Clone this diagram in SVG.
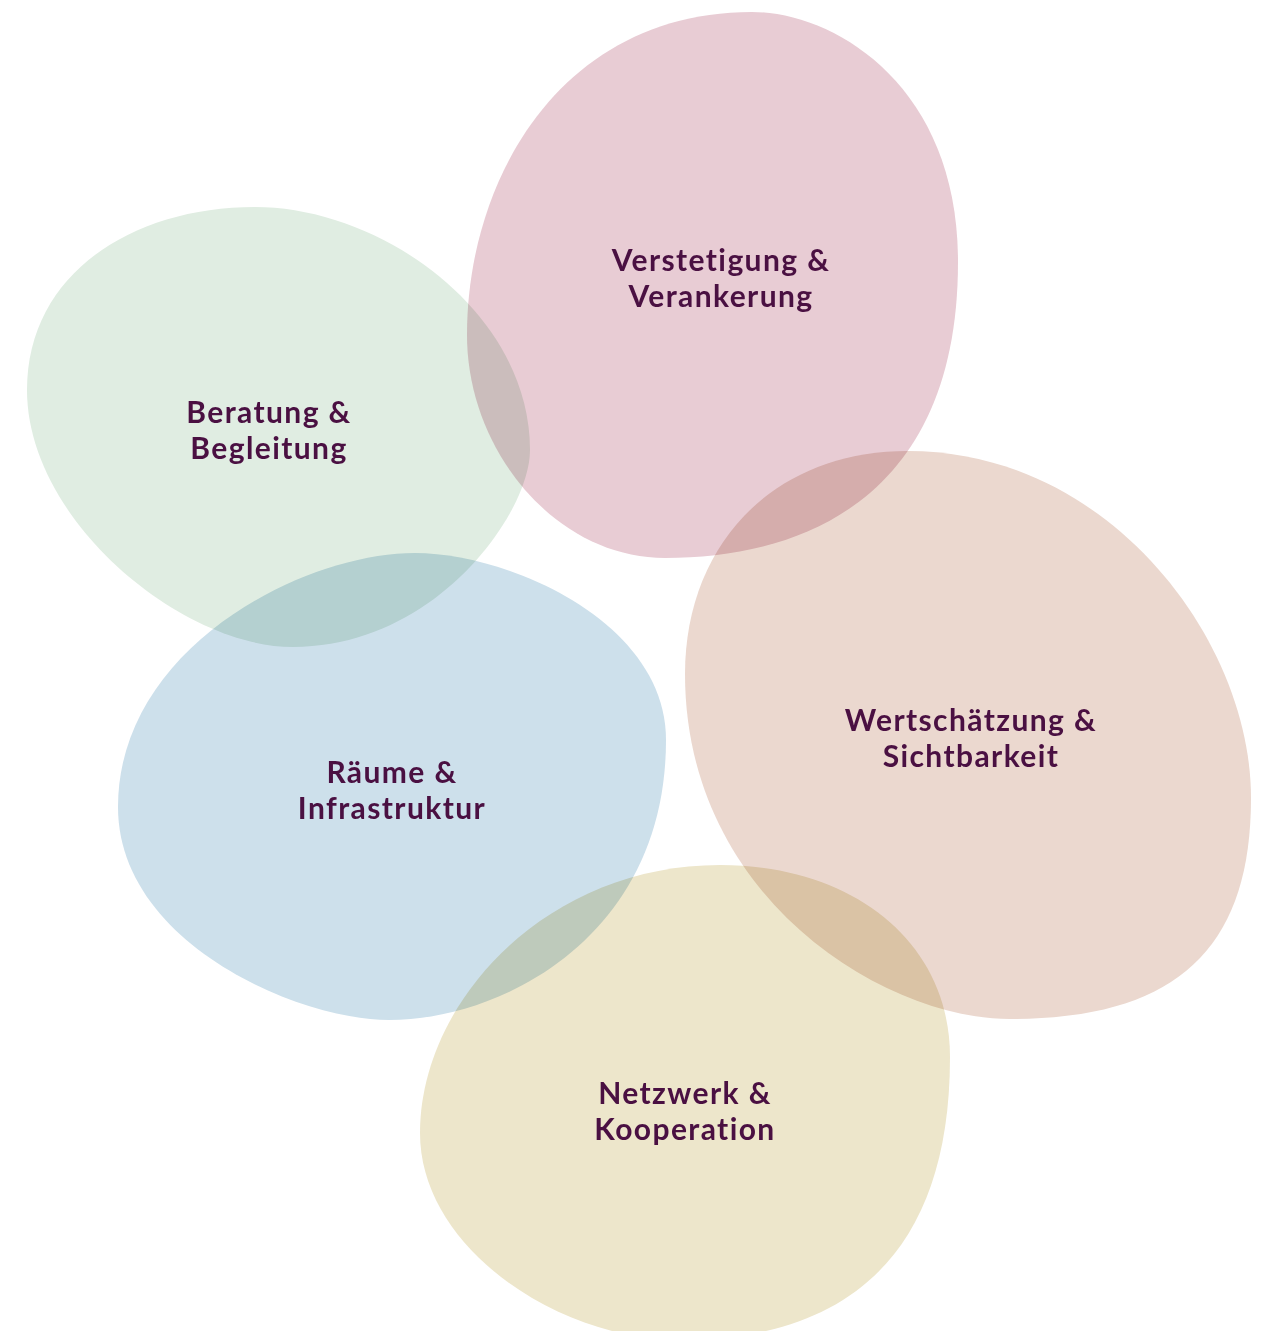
<svg xmlns="http://www.w3.org/2000/svg" width="1262" height="1331" viewBox="0 0 1262 1331">
  <style>
    .blob { mix-blend-mode: multiply; stroke: none; }
    .label { font-family: Lato, "Noto Sans", "Liberation Sans", sans-serif; font-weight: 700; font-size: 30px; letter-spacing: 1.4px; fill: #4a1042; text-anchor: middle; }
  </style>
  <rect width="1262" height="1331" fill="#ffffff"/>

  <!-- Beratung & Begleitung -->
  <g id="beratung">
    <path class="blob" fill="#e0ede2" d="M 255,207 C 382,207 530,313 530,450 C 530,513 436,647 293,647 C 181,647 27,520 27,390 C 27,274 132,207 255,207 Z"/>
  </g>

  <!-- Verstetigung & Verankerung -->
  <g id="verstetigung">
    <path class="blob" fill="#e8ccd4" d="M 752,12 C 832,12 958,83 958,262 C 958,493 809,558 665,558 C 556,558 467,451 467,335 C 467,179 561,12 752,12 Z"/>
  </g>

  <!-- Räume & Infrastruktur -->
  <g id="raeume">
    <path class="blob" fill="#cde0eb" d="M 415,553 C 507,553 666,621 666,740 C 666,936 502,1020 389,1020 C 300,1020 118,944 118,807 C 118,647 304,553 415,553 Z"/>
  </g>

  <!-- Wertschätzung & Sichtbarkeit -->
  <g id="wertschaetzung">
    <path class="blob" fill="#ebd8cf" d="M 908,451 C 1109,451 1251,640 1251,798 C 1251,951 1174,1019 1010,1019 C 883,1019 685,897 685,674 C 685,547 771,451 908,451 Z"/>
  </g>

  <!-- Netzwerk & Kooperation -->
  <g id="netzwerk">
    <path class="blob" fill="#ede6cb" d="M 720,865 C 853,865 950,942 950,1057 C 950,1266 835,1340 680,1340 C 560,1340 420,1249 420,1133 C 420,1002 546,865 720,865 Z"/>
  </g>

  <!-- labels -->
  <g id="labels">
    <text class="label" x="721" y="271">Verstetigung &amp;</text>
    <text class="label" x="721" y="307">Verankerung</text>
    <text class="label" x="269" y="423">Beratung &amp;</text>
    <text class="label" x="269" y="459">Begleitung</text>
    <text class="label" x="392" y="783">Räume &amp;</text>
    <text class="label" x="392" y="819">Infrastruktur</text>
    <text class="label" x="971" y="731">Wertschätzung &amp;</text>
    <text class="label" x="971" y="767">Sichtbarkeit</text>
    <text class="label" x="685" y="1104">Netzwerk &amp;</text>
    <text class="label" x="685" y="1140">Kooperation</text>
  </g>
</svg>
